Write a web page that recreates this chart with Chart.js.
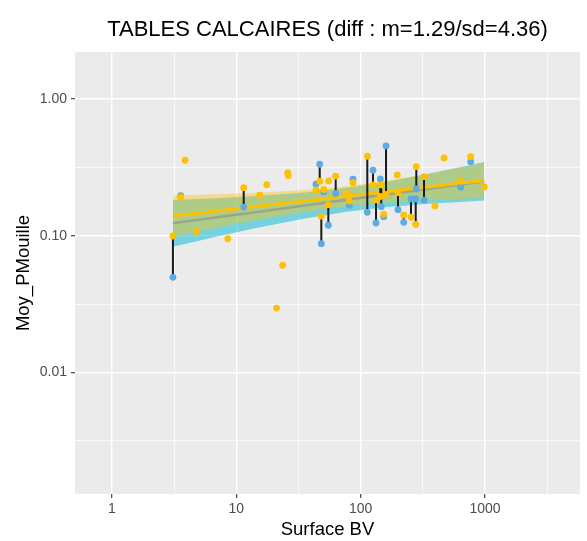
<!DOCTYPE html>
<html>
<head>
<meta charset="utf-8">
<script src="https://cdn.jsdelivr.net/npm/chart.js@4.4.1/dist/chart.umd.min.js"></script>
<style>
  html, body { margin: 0; padding: 0; background: #ffffff; }
  canvas { display: block; }
</style>
</head>
<body>
<canvas id="chart" width="587" height="541"></canvas>
<script>
// ---- texts ----
const chartTitle = 'TABLES CALCAIRES (diff : m=1.29/sd=4.36)';
const xAxisTitle = 'Surface BV';
const yAxisTitle = 'Moy_PMouille';

// ---- per-site values ----
const surface = [3.10, 3.58, 3.88, 4.78, 8.55, 11.49, 15.45, 17.59, 21.09, 23.65,
  25.94, 26.23, 43.81, 46.91, 48.32, 50.51, 55.01, 55.41, 63.07, 78.05,
  81.15, 86.87, 113.2, 125.8, 133.0, 144.0, 146.5, 153.4, 160.1, 197.2,
  199.8, 222.1, 254.2, 277.3, 280.4, 323.3, 396.3, 468.2, 637.8, 767.4, 987.2];
const moyBlue = [0.0496, 0.196, null, null, null, 0.162, null, null, null, null,
  null, null, 0.2377, 0.333, 0.0874, 0.209, 0.1192, null, 0.2036, null,
  0.167, 0.2586, 0.1483, 0.301, 0.1238, 0.26, 0.163, 0.1377, 0.453, null,
  0.155, 0.1253, 0.1856, 0.1856, 0.2196, 0.1816, null, null, 0.226, 0.3477, null];
const moyYellow = [0.0995, 0.192, 0.356, 0.107, 0.0950, 0.2245, 0.1975, 0.236, 0.0296, 0.0608,
  0.289, 0.275, 0.216, 0.25, 0.139, 0.218, 0.1685, 0.2513, 0.2725, 0.2036,
  0.1794, 0.2438, 0.381, 0.235, 0.1825, 0.1935, 0.235, 0.1434, 0.2008, 0.278,
  0.2063, 0.1417, 0.1364, 0.1212, 0.3197, 0.27, 0.165, 0.370, 0.25, 0.378, 0.227];

// ---- log-log fits with confidence bands ----
const fitX = [3.10, 6.75, 14.16, 35.74, 74.93, 157.1, 329.4, 629.5, 987.2];
const yellowFit  = [0.1393, 0.1511, 0.1632, 0.1797, 0.1939, 0.2095, 0.2263, 0.2417, 0.2533];
const yellowHigh = [0.1968, 0.2005, 0.2057, 0.2156, 0.2294, 0.2513, 0.2818, 0.3145, 0.3409];
const yellowLow  = [0.0987, 0.1139, 0.1296, 0.1498, 0.1638, 0.1747, 0.1818, 0.1858, 0.1884];
const blueFit  = [0.1232, 0.1356, 0.1485, 0.1663, 0.1821, 0.1995, 0.2185, 0.2365, 0.2500];
const blueHigh = [0.1825, 0.1881, 0.1949, 0.2070, 0.2229, 0.2467, 0.2799, 0.3166, 0.3461];
const blueLow  = [0.0832, 0.0978, 0.1133, 0.1336, 0.1488, 0.1614, 0.1706, 0.1767, 0.1806];

// ---- axis ticks and limits ----
const xMajorTicks = [1, 10, 100, 1000];
const xMinorTicks = [3.1623, 31.623, 316.23, 3162.3];
const yMajorTicks = [0.01, 0.1, 1];
const yMinorTicks = [0.0031623, 0.031623, 0.31623];
const xLimits = [0.5059, 5803];
const yLimits = [0.001294, 2.202];

const FONT = '"Liberation Sans", Arial, Helvetica, sans-serif';
const YELLOW = '#FFC000';
const BLUE = '#5AACE2';

const toPts = (xs, ys) => xs.map((x, i) => ({ x: x, y: ys[i] })).filter(p => p.y !== null);

// vertical segments joining the two values of a site
const segments = [];
surface.forEach((x, i) => {
  if (moyBlue[i] !== null && moyYellow[i] !== null) {
    segments.push({ x: x, y: moyBlue[i] }, { x: x, y: moyYellow[i] }, { x: x, y: null });
  }
});

const isMajor = (list, v) => list.some(m => Math.abs(m - v) / m < 1e-6);

const panelBackground = {
  id: 'panelBackground',
  beforeDraw(chart) {
    const { ctx, chartArea: a } = chart;
    ctx.save();
    ctx.fillStyle = '#EBEBEB';
    ctx.fillRect(a.left, a.top, a.right - a.left, a.bottom - a.top);
    ctx.restore();
  }
};

const panelTitle = {
  id: 'panelTitle',
  afterDraw(chart) {
    const { ctx, chartArea: a } = chart;
    ctx.save();
    ctx.font = '22px ' + FONT;
    ctx.fillStyle = '#000000';
    ctx.textAlign = 'center';
    ctx.textBaseline = 'alphabetic';
    ctx.fillText(chartTitle, (a.left + a.right) / 2, 36);
    ctx.restore();
  }
};

function gridOpts(majors) {
  return {
    color: '#FFFFFF',
    lineWidth: c => (c.tick && isMajor(majors, c.tick.value)) ? 1.4 : 0.7,
    drawTicks: true,
    tickLength: 4,
    tickWidth: 1.1,
    tickColor: c => (c.tick && isMajor(majors, c.tick.value)) ? '#333333' : 'rgba(0,0,0,0)'
  };
}

new Chart(document.getElementById('chart'), {
  data: {
    datasets: [
      { type: 'scatter', data: toPts(surface, moyYellow), backgroundColor: YELLOW,
        pointRadius: 3.4, pointBorderWidth: 0, order: 0 },
      { type: 'scatter', data: toPts(surface, moyBlue), backgroundColor: BLUE,
        pointRadius: 3.4, pointBorderWidth: 0, order: 1 },
      { type: 'line', data: segments, borderColor: '#1A1A1A', borderWidth: 2,
        pointRadius: 0, spanGaps: false, fill: false, order: 2 },
      { type: 'line', data: toPts(fitX, yellowFit), borderColor: YELLOW, borderWidth: 3,
        pointRadius: 0, fill: false, order: 3 },
      { type: 'line', data: toPts(fitX, yellowHigh), borderWidth: 0, borderColor: 'rgba(0,0,0,0)',
        backgroundColor: 'rgba(255,196,20,0.42)', pointRadius: 0, fill: { target: 5 }, order: 4 },
      { type: 'line', data: toPts(fitX, yellowLow), borderWidth: 0, borderColor: 'rgba(0,0,0,0)',
        pointRadius: 0, fill: false, order: 5 },
      { type: 'line', data: toPts(fitX, blueFit), borderColor: 'rgb(80,145,225)', borderWidth: 2.5,
        pointRadius: 0, fill: false, order: 6 },
      { type: 'line', data: toPts(fitX, blueHigh), borderWidth: 0, borderColor: 'rgba(0,0,0,0)',
        backgroundColor: 'rgba(0,184,208,0.5)', pointRadius: 0, fill: { target: 8 }, order: 7 },
      { type: 'line', data: toPts(fitX, blueLow), borderWidth: 0, borderColor: 'rgba(0,0,0,0)',
        pointRadius: 0, fill: false, order: 8 }
    ]
  },
  options: {
    responsive: false,
    animation: false,
    devicePixelRatio: 1,
    layout: { padding: { top: 52, right: 7, bottom: 0, left: 0 } },
    plugins: { legend: { display: false }, tooltip: { enabled: false }, title: { display: false } },
    scales: {
      x: {
        type: 'logarithmic',
        position: 'bottom',
        min: xLimits[0], max: xLimits[1],
        afterBuildTicks: s => {
          s.ticks = xMajorTicks.concat(xMinorTicks).sort((a, b) => a - b).map(v => ({ value: v }));
        },
        afterFit: s => { s.height = 47; },
        ticks: {
          autoSkip: false, maxRotation: 0, padding: 3, color: '#4D4D4D',
          font: { family: FONT, size: 14 },
          callback: v => isMajor(xMajorTicks, v) ? String(Math.round(v)) : ''
        },
        grid: gridOpts(xMajorTicks),
        border: { display: false },
        title: { display: true, text: xAxisTitle, color: '#000000',
          font: { family: FONT, size: 18.5 }, padding: { top: 0, bottom: 0 } }
      },
      y: {
        type: 'logarithmic',
        position: 'left',
        min: yLimits[0], max: yLimits[1],
        afterBuildTicks: s => {
          s.ticks = yMajorTicks.concat(yMinorTicks).sort((a, b) => a - b).map(v => ({ value: v }));
        },
        afterFit: s => { s.width = 75; },
        ticks: {
          autoSkip: false, padding: 4, color: '#4D4D4D',
          font: { family: FONT, size: 14 },
          callback: v => isMajor(yMajorTicks, v) ? v.toFixed(2) : ''
        },
        grid: gridOpts(yMajorTicks),
        border: { display: false },
        title: { display: true, text: yAxisTitle, color: '#000000',
          font: { family: FONT, size: 18.5 }, padding: { top: 13, bottom: 0 } }
      }
    }
  },
  plugins: [panelBackground, panelTitle]
});
</script>
</body>
</html>
